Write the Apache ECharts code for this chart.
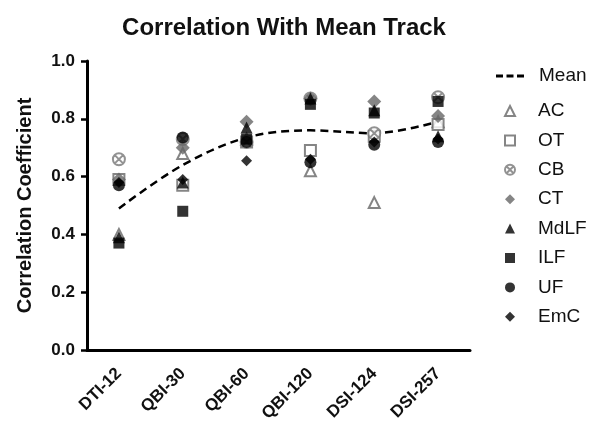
<!DOCTYPE html>
<html>
<head>
<meta charset="utf-8">
<script src="https://cdn.jsdelivr.net/npm/echarts@6/dist/echarts.min.js"></script>
<style>
  html, body { margin: 0; padding: 0; background: #fff; }
  #canvas { width: 594px; height: 423px; }
</style>
</head>
<body>
<div id="canvas"></div>
<script>
var categories = ['DTI-12', 'QBI-30', 'QBI-60', 'QBI-120', 'DSI-124', 'DSI-257'];
var yTicks = [0.0, 0.2, 0.4, 0.6, 0.8, 1.0];

var meanVals = [0.49, 0.64, 0.735, 0.76, 0.75, 0.79];
var acVals   = [0.40, 0.68, 0.73, 0.62, 0.51, 0.79];
var otVals   = [0.59, 0.57, 0.72, 0.69, 0.74, 0.78];
var cbVals   = [0.66, 0.73, 0.72, 0.87, 0.75, 0.875];
var ctVals   = [0.59, 0.70, 0.79, 0.87, 0.86, 0.81];
var mdlfVals = [0.39, 0.58, 0.77, 0.87, 0.83, 0.74];
var ilfVals  = [0.37, 0.48, 0.73, 0.85, 0.82, 0.86];
var ufVals   = [0.57, 0.735, 0.72, 0.65, 0.71, 0.72];
var emcVals  = [0.58, 0.59, 0.655, 0.66, 0.72, 0.73];

var markerNames = ['AC', 'OT', 'CB', 'CT', 'MdLF', 'ILF', 'UF', 'EmC'];

var cbPath = 'path://M10,0A10,10,0,1,1,10,20A10,10,0,1,1,10,0ZM3.5,3.5L16.5,16.5M16.5,3.5L3.5,16.5';
var dashPath = 'path://M0,0h7v3h-7zM10.5,0h7v3h-7zM21,0h7v3h-7z';

function pts(name, vals, symbol, size, style) {
    return {
        name: name,
        type: 'scatter',
        data: vals,
        symbol: symbol,
        symbolSize: size,
        itemStyle: style
    };
}

var myChart = echarts.init(document.getElementById('canvas'));

var legendText = { fontFamily: 'Liberation Sans', fontSize: 19, color: '#111', lineHeight: 20 };

var option = {
    animation: false,
    title: {
        text: 'Correlation With Mean Track',
        left: 279,
        textAlign: 'center',
        top: 11,
        textStyle: { fontFamily: 'Liberation Sans', fontWeight: 'bold', fontSize: 24, color: '#111' }
    },
    legend: [
        {
            orient: 'vertical',
            left: 491,
            top: 61,
            itemWidth: 28,
            itemHeight: 3,
            textStyle: Object.assign({ padding: [0, 0, 0, 10] }, legendText),
            data: [{ name: 'Mean', icon: dashPath }]
        },
        {
            orient: 'vertical',
            left: 499,
            top: 96,
            itemGap: 9.4,
            itemWidth: 10,
            itemHeight: 10,
            textStyle: Object.assign({ padding: [0, 0, 0, 18] }, legendText),
            data: markerNames
        }
    ],
    grid: { left: 87, right: 124, top: 61, bottom: 73, outerBoundsMode: 'none' },
    xAxis: {
        type: 'category',
        data: categories,
        boundaryGap: true,
        axisLine: { lineStyle: { color: '#000', width: 3 } },
        axisTick: { alignWithLabel: true, length: 6, lineStyle: { color: '#000', width: 2.5 } },
        axisLabel: {
            rotate: 45, margin: 21,
            fontFamily: 'Liberation Sans', fontWeight: 'bold', fontSize: 17, color: '#111'
        }
    },
    yAxis: {
        type: 'value',
        min: 0, max: 1, interval: 0.2,
        name: 'Correlation Coefficient',
        nameLocation: 'middle',
        nameGap: 52,
        nameTextStyle: { fontFamily: 'Liberation Sans', fontWeight: 'bold', fontSize: 20, color: '#111' },
        axisLine: { show: true, lineStyle: { color: '#000', width: 3 } },
        axisTick: { show: true, length: 6, lineStyle: { color: '#000', width: 2.5 } },
        splitLine: { show: false },
        axisLabel: {
            margin: 12,
            fontFamily: 'Liberation Sans', fontWeight: 'bold', fontSize: 17, color: '#111',
            formatter: function (v) { return v.toFixed(1); }
        }
    },
    series: [
        {
            name: 'Mean',
            type: 'line',
            data: meanVals,
            smooth: 0.35,
            symbol: 'none',
            z: 1,
            lineStyle: { color: '#000', width: 2.5, type: [8, 5] },
            itemStyle: { color: '#000' }
        },
        pts('AC', acVals, 'triangle', 11, { color: '#fff', borderColor: '#666', borderWidth: 2 }),
        pts('OT', otVals, 'rect', 11, { color: '#fff', borderColor: '#666', borderWidth: 2 }),
        pts('CB', cbVals, cbPath, 12, { color: '#fff', borderColor: '#777', borderWidth: 2 }),
        pts('CT', ctVals, 'diamond', 14, { color: '#666' }),
        pts('MdLF', mdlfVals, 'triangle', 12, { color: '#000' }),
        pts('ILF', ilfVals, 'rect', 11, { color: '#000' }),
        pts('UF', ufVals, 'circle', 12, { color: '#000' }),
        pts('EmC', emcVals, 'diamond', 11, { color: '#000' })
    ]
};

myChart.setOption(option);
</script>
</body>
</html>
